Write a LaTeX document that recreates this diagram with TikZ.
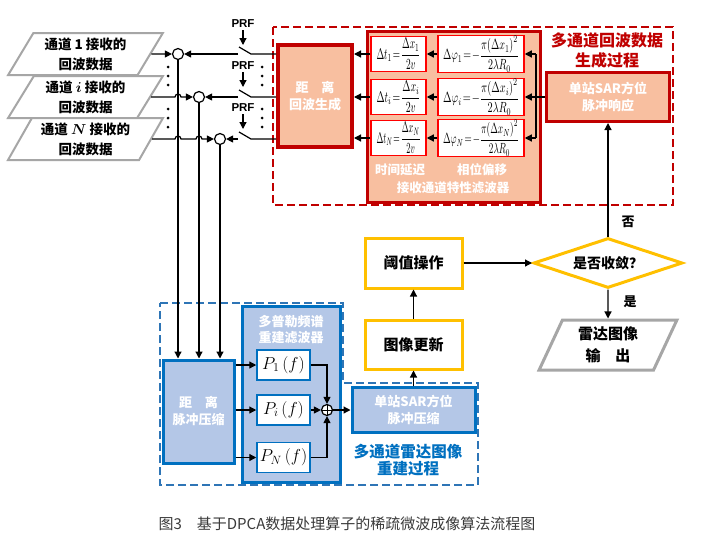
\documentclass[tikz,border=0pt]{standalone}
\usepackage{fontspec}
\usepackage{amsmath}
\usepackage{graphicx}
\setmainfont{Noto Sans CJK SC}
\newfontfamily\arialfont{Liberation Sans}
\usetikzlibrary{arrows.meta,shapes.geometric,calc}
\definecolor{salmon}{HTML}{F8BFA0}
\definecolor{dred}{HTML}{C00000}
\definecolor{lblue}{HTML}{B4C7E7}
\definecolor{mblue}{HTML}{0070C0}
\definecolor{dblue}{HTML}{2E75B6}
\definecolor{gold}{HTML}{FFC000}
\definecolor{pgray}{HTML}{A6A6A6}
\definecolor{capgray}{HTML}{3A3A3A}
\newcommand{\dtf}[1]{\resizebox{44pt}{21pt}{$\Delta t_{#1}\!=\!\dfrac{\Delta x_{#1}}{2v}$}}
\newcommand{\dpf}[1]{\resizebox{76pt}{24pt}{$\Delta\varphi_{#1}\!=\!-\dfrac{\pi\!\left(\Delta x_{#1}\right)^{2}}{2\lambda R_0}$}}
\tikzset{
  ln/.style={line width=1.2pt},
  arr/.style={line width=1.2pt,-{Triangle[length=7pt,width=7pt]}},
  salbox/.style={draw=dred, fill=salmon, line width=3pt, text=white, align=center, inner sep=0pt,
    font=\bfseries\fontsize{13}{17}\selectfont},
  whred/.style={draw=red, fill=white, line width=1.5pt, inner sep=0pt},
  bluebox/.style={draw=mblue, fill=lblue, line width=3pt, text=white, align=center, inner sep=0pt,
    font=\bfseries\fontsize{13}{17}\selectfont},
  whblue/.style={draw=mblue, fill=white, line width=1.5pt, inner sep=0pt, font=\fontsize{17}{19}\selectfont},
  goldbox/.style={draw=gold, fill=white, line width=3pt, inner sep=0pt, align=center,
    font=\bfseries\fontsize{15}{18}\selectfont},
  para/.style={trapezium, trapezium stretches=true, draw=pgray, fill=white, line width=2pt,
    inner sep=0pt, align=center, font=\bfseries\fontsize{13.5}{20}\selectfont},
  sumc/.style={circle, draw, fill=white, line width=1.2pt, minimum size=11pt, inner sep=0pt},
  prf/.style={font=\arialfont\bfseries\fontsize{11.5}{12}\selectfont, inner sep=0pt},
  wlab/.style={text=white, font=\bfseries\fontsize{12.5}{14}\selectfont, inner sep=0pt},
  plainlab/.style={font=\bfseries\fontsize{13}{15}\selectfont, inner sep=0pt},
}
\begin{document}
\begin{tikzpicture}[x=1pt,y=-1pt]
\useasboundingbox[fill=white] (0,0) rectangle (708,549);

% ---------- frames ----------
\draw[dred, line width=1.5pt, dash pattern=on 8pt off 4pt] (273,27) rectangle (673,205);
\draw[dblue, line width=1.5pt, dash pattern=on 8pt off 4pt] (160,303) -- (343,303) -- (343,383) -- (478,383) -- (478,485) -- (160,485) -- cycle;

% ---------- input channels ----------
\node[para, trapezium left angle=59, trapezium right angle=121, minimum width=155, minimum height=42] (ch1) at (85.5,54) {通道 $\mathbf{1}$ 接收的\\回波数据};
\node[para, trapezium left angle=59, trapezium right angle=121, minimum width=155, minimum height=42] (ch2) at (85.5,97) {通道 $\boldsymbol{i}$ 接收的\\回波数据};
\node[para, trapezium left angle=59, trapezium right angle=121, minimum width=155, minimum height=42] (ch3) at (85.5,139) {通道 $\boldsymbol{N}$ 接收的\\回波数据};

% ---------- junction circles ----------
\node[sumc] (c1) at (178,54) {};
\node[sumc] (c2) at (199,97) {};
\node[sumc] (c3) at (220,139) {};

% ---------- range echo generation ----------
\node[salbox, line width=4pt, minimum width=74, minimum height=102] (rg) at (315,96) {距\quad 离\\回波生成};

% ---------- switches ----------
\coordinate (s1a) at (238,54); \coordinate (s1b) at (251,54); \coordinate (s1t) at (239,47);
\coordinate (s2a) at (238,97); \coordinate (s2b) at (251,97); \coordinate (s2t) at (239,90);
\coordinate (s3a) at (238,139); \coordinate (s3b) at (251,139); \coordinate (s3t) at (239,132);
\draw[ln] (rg.west |- s1b) -- (s1b) -- (s1t);
\draw[ln] (rg.west |- s2b) -- (s2b) -- (s2t);
\draw[ln] (rg.west |- s3b) -- (s3b) -- (s3t);
\draw[arr] (s1a) -- (c1.east);
\draw[arr] (s2a) -- (c2.east);
\draw[arr] (s3a) -- (c3.east);

% PRF
\node[prf] (prf1) at (243,24) {PRF};
\node[prf] (prf2) at (243,66) {PRF};
\node[prf] (prf3) at (243,108) {PRF};
\coordinate (pe1) at (243,45); \coordinate (pe2) at (243,87); \coordinate (pe3) at (243,129);
\draw[arr] (prf1.south) ++(0,2) -- (pe1);
\draw[arr] (prf2.south) ++(0,2) -- (pe2);
\draw[arr] (prf3.south) ++(0,2) -- (pe3);

% dots
\foreach \yy in {67,76,85,109,118,127}{
  \fill (168,\yy) circle (1.5);
  \fill (262,\yy) circle (1.5);
}

% ---------- range compression (blue) ----------
\node[bluebox, minimum width=71, minimum height=103] (rc) at (198.5,411.5) {距\quad 离\\脉冲压缩};

% channel lines
\draw[arr] (ch1.east) -- (c1.west);
\draw[arr] (ch2.east) -- ($(c1|-ch2.east)+(-3,0)$) arc[start angle=180,end angle=360,radius=3] -- (c2.west);
\draw[arr] (ch3.east) -- ($(c1|-ch3.east)+(-3,0)$) arc[start angle=180,end angle=360,radius=3]
   -- ($(c2|-ch3.east)+(-3,0)$) arc[start angle=180,end angle=360,radius=3] -- (c3.west);
\draw[arr] (c1.south) -- (c1.south |- rc.north);
\draw[arr] (c2.south) -- (c2.south |- rc.north);
\draw[arr] (c3.south) -- (c3.south |- rc.north);

% ---------- channel filter ----------
\node[salbox, minimum width=173, minimum height=171] (fb) at (453.5,116.5) {};
\node[whred, minimum width=55, minimum height=35] (dt1) at (398.5,54) {\dtf{1}};
\node[whred, minimum width=55, minimum height=35] (dt2) at (398.5,97) {\dtf{i}};
\node[whred, minimum width=55, minimum height=35] (dt3) at (398.5,138) {\dtf{N}};
\node[whred, minimum width=86, minimum height=37] (dp1) at (481,54) {\dpf{1}};
\node[whred, minimum width=86, minimum height=37] (dp2) at (481,97) {\dpf{i}};
\node[whred, minimum width=86, minimum height=37] (dp3) at (481,138) {\dpf{N}};
\node[wlab] (l1) at (400,170) {时间延迟};
\node[wlab] (l2) at (482,170) {相位偏移};
\node[wlab] (l3) at (453,188) {接收通道特性滤波器};

\draw[arr] (dp1.west) -- (dt1.east);
\draw[arr] (dp2.west) -- (dt2.east);
\draw[arr] (dp3.west) -- (dt3.east);
\draw[arr] (dt1.west) -- (dt1.west -| rg.east);
\draw[arr] (dt2.west) -- (dt2.west -| rg.east);
\draw[arr] (dt3.west) -- (dt3.west -| rg.east);

% ---------- SAR response ----------
\node[salbox, minimum width=123, minimum height=49] (sr) at (608,97) {单站SAR方位\\脉冲响应};
\coordinate (b1) at (536,54); \coordinate (b2) at (536,97); \coordinate (b3) at (536,138);
\draw[ln] (b1) -- (b3);
\draw[ln] (sr.west) -- (b2);
\draw[arr] (b1) -- (dp1.east);
\draw[arr] (b2) -- (dp2.east);
\draw[arr] (b3) -- (dp3.east);

\node[text=dred, align=center, font=\bfseries\fontsize{16}{20}\selectfont, inner sep=0pt] (rt) at (607,50) {多通道回波数据\\生成过程};

% ---------- Doppler filter ----------
\node[bluebox, minimum width=98, minimum height=176] (df) at (291,394) {};
\node[text=white, align=center, font=\bfseries\fontsize{13}{16}\selectfont, inner sep=0pt] (dft) at (291,330) {多普勒频谱\\重建滤波器};
\node[whblue, minimum width=53, minimum height=30] (p1) at (283.5,365) {$P_1\left(f\right)$};
\node[whblue, minimum width=53, minimum height=30] (pi) at (283.5,410) {$P_i\left(f\right)$};
\node[whblue, minimum width=53, minimum height=30] (pn) at (283.5,457.5) {$P_N\left(f\right)$};
\node[sumc, path picture={\draw[line width=1pt] (path picture bounding box.north) -- (path picture bounding box.south)
   (path picture bounding box.west) -- (path picture bounding box.east);}] (sm) at (327,410) {};
\draw[arr] (rc.east |- p1.west) -- (p1.west);
\draw[arr] (rc.east |- pi.west) -- (pi.west);
\draw[arr] (rc.east |- pn.west) -- (pn.west);
\draw[arr] (p1.east) -| (sm.north);
\draw[arr] (pi.east) -- (sm.west);
\draw[arr] (pn.east) -| (sm.south);

% ---------- SAR compression ----------
\node[bluebox, minimum width=123, minimum height=45] (sc) at (413.5,410) {单站SAR方位\\脉冲压缩};
\draw[arr] (sm.east) -- (sc.west);
\node[text=mblue, align=center, font=\bfseries\fontsize{15.5}{17}\selectfont, inner sep=0pt] (bt) at (408,460) {多通道雷达图像\\重建过程};

% ---------- iteration ----------
\node[goldbox, minimum width=97, minimum height=49] (iu) at (413.5,344.5) {图像更新};
\node[goldbox, minimum width=97, minimum height=50] (th) at (413.5,263) {阈值操作};
\node[diamond, aspect=3, draw=gold, fill=white, line width=3pt, inner sep=0pt, minimum width=149, minimum height=50,
   font=\bfseries\fontsize{14}{16}\selectfont] (dm) at (608,263) {是否收敛？};
\node[para, line width=3pt, trapezium left angle=67, trapezium right angle=113, minimum width=138, minimum height=50,
   font=\bfseries\fontsize{15}{22}\selectfont] (out) at (608,345) {雷达图像\\输\quad 出};

\draw[arr] (sc.north) -- (iu.south);
\draw[arr] (iu.north) -- (th.south);
\draw[arr] (th.east) -- (dm.west);
\draw[arr] (dm.north) -- (sr.south);
\draw[arr] (dm.south) -- (out.north);
\node[plainlab] (no) at (628,222) {否};
\node[plainlab] (yes) at (630,302) {是};

% ---------- caption ----------
\node[text=capgray, font=\fontsize{15}{17}\selectfont, inner sep=0pt] (cap) at (347,524) {图3\quad 基于DPCA数据处理算子的稀疏微波成像算法流程图};
\end{tikzpicture}
\end{document}
